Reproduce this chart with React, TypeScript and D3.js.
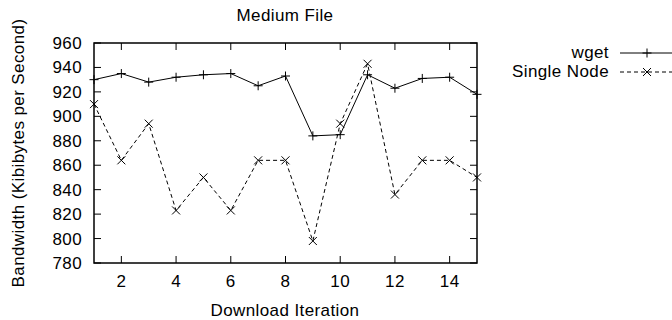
import React, { useEffect, useRef } from "react";
import * as d3 from "d3";

// values
const iterations = [1, 2, 3, 4, 5, 6, 7, 8, 9, 10, 11, 12, 13, 14, 15];
const wget = [930, 935, 928, 932, 934, 935, 925, 933, 884, 885, 934, 923, 931, 932, 918];
const singleNode = [910, 864, 894, 823, 850, 823, 864, 864, 798, 894, 943, 836, 864, 864, 850];
const xTicks = [2, 4, 6, 8, 10, 12, 14];
const yTicks = [780, 800, 820, 840, 860, 880, 900, 920, 940, 960];

const App = () => {
  const ref = useRef<SVGSVGElement>(null);

  useEffect(() => {
    const svg = d3.select(ref.current);
    svg.selectAll("*").remove();

    const font = "'Liberation Sans', Arial, sans-serif";
    const fs = 17;
    const ls = 0.4;
    const left = 94, right = 477, top = 43, bottom = 263;

    const x = d3.scaleLinear().domain([1, 15]).range([left, right]);
    const y = d3.scaleLinear().domain([780, 960]).range([bottom, top]);

    const g = svg.append("g");

    const label = (tx, ty, anchor, s) =>
      g
        .append("text")
        .attr("x", tx)
        .attr("y", ty)
        .attr("text-anchor", anchor)
        .attr("font-family", font)
        .attr("font-size", fs)
        .attr("letter-spacing", ls)
        .text(s);

    // ticks on all sides, pointing inward
    const tl = 7;
    xTicks.forEach((t) => {
      g.append("line").attr("x1", x(t)).attr("x2", x(t)).attr("y1", bottom).attr("y2", bottom - tl).attr("stroke", "#000");
      g.append("line").attr("x1", x(t)).attr("x2", x(t)).attr("y1", top).attr("y2", top + tl).attr("stroke", "#000");
      label(x(t), 287, "middle", t);
    });
    yTicks.forEach((t) => {
      g.append("line").attr("x1", left).attr("x2", left + tl).attr("y1", y(t)).attr("y2", y(t)).attr("stroke", "#000");
      g.append("line").attr("x1", right).attr("x2", right - tl).attr("y1", y(t)).attr("y2", y(t)).attr("stroke", "#000");
      label(82, y(t) + 6, "end", t);
    });

    // frame
    g.append("rect")
      .attr("x", left)
      .attr("y", top)
      .attr("width", right - left)
      .attr("height", bottom - top)
      .attr("fill", "none")
      .attr("stroke", "#000")
      .attr("stroke-width", 1.5);

    const line = d3
      .line<number>()
      .x((d, i) => x(iterations[i]))
      .y((d) => y(d));

    const plus = (sel, cx, cy) => {
      sel.append("path").attr("d", `M${cx - 4.5},${cy}H${cx + 4.5}M${cx},${cy - 4.5}V${cy + 4.5}`).attr("stroke", "#000");
    };
    const cross = (sel, cx, cy) => {
      sel.append("path").attr("d", `M${cx - 4},${cy - 4}L${cx + 4},${cy + 4}M${cx - 4},${cy + 4}L${cx + 4},${cy - 4}`).attr("stroke", "#000");
    };

    g.append("path").datum(wget).attr("d", line).attr("fill", "none").attr("stroke", "#000").attr("stroke-width", 1);
    wget.forEach((v, i) => plus(g, x(iterations[i]), y(v)));

    g.append("path")
      .datum(singleNode)
      .attr("d", line)
      .attr("fill", "none")
      .attr("stroke", "#000")
      .attr("stroke-width", 1)
      .attr("stroke-dasharray", "4,3");
    singleNode.forEach((v, i) => cross(g, x(iterations[i]), y(v)));

    // legend
    const legend = [
      { name: "wget", dash: null, mark: plus, ly: 53 },
      { name: "Single Node", dash: "4,3", mark: cross, ly: 72 },
    ];
    legend.forEach((d) => {
      label(609, d.ly + 5, "end", d.name);
      g.append("line")
        .attr("x1", 620)
        .attr("x2", 676)
        .attr("y1", d.ly)
        .attr("y2", d.ly)
        .attr("stroke", "#000")
        .attr("stroke-dasharray", d.dash);
      d.mark(g, 647, d.ly);
    });

    // titles
    label(285, 21, "middle", "Medium File");
    label(285, 316, "middle", "Download Iteration");
    g.append("text")
      .attr("transform", `translate(24,${(top + bottom) / 2}) rotate(-90)`)
      .attr("text-anchor", "middle")
      .attr("font-family", font)
      .attr("font-size", fs)
      .attr("letter-spacing", ls)
      .text("Bandwidth (Kibibytes per Second)");
  }, []);

  return (
    <svg
      ref={ref}
      width={672}
      height={320}
      style={{ position: "absolute", left: 0, top: 0, background: "#fff" }}
    />
  );
};

export default App;
